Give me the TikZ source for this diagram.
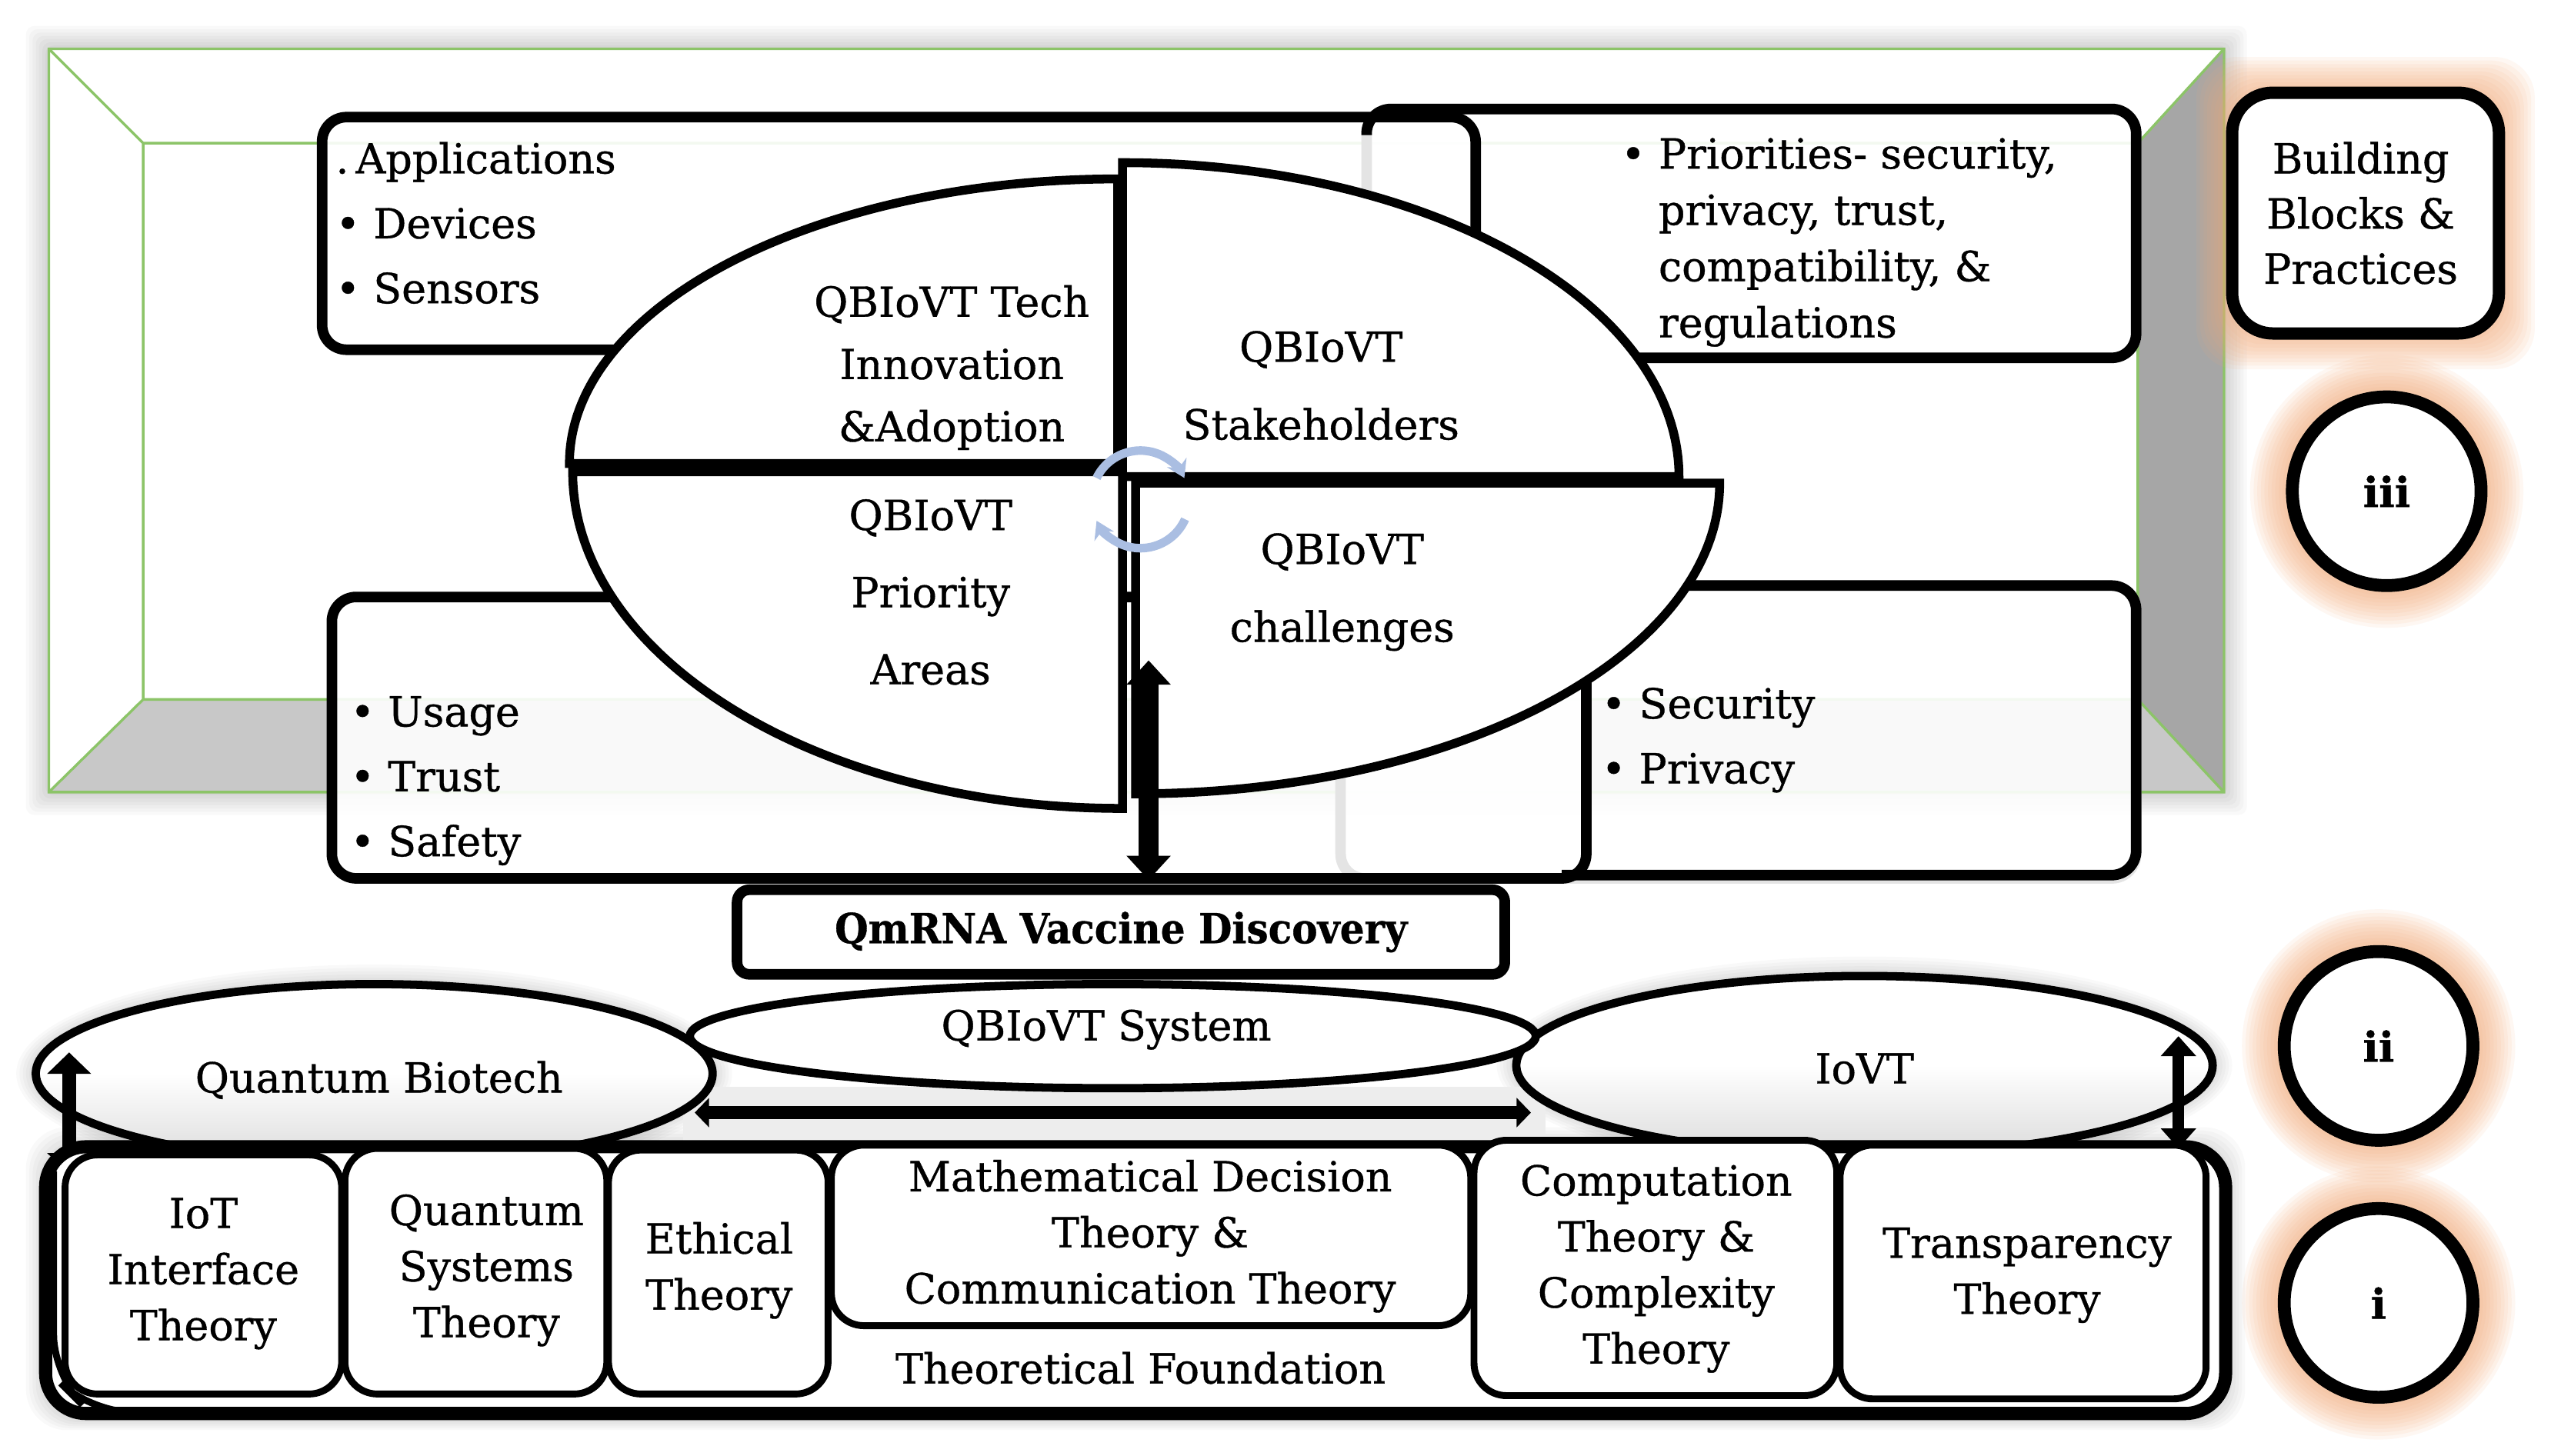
\documentclass[tikz,border=0pt]{standalone}
\usepackage{fontspec}
\setmainfont{DejaVu Serif}[RawFeature={embolden=0.7}]
\usetikzlibrary{arrows.meta,calc}
\definecolor{fgreen}{RGB}{140,196,104}
\definecolor{bevlight}{RGB}{200,200,200}
\definecolor{bevdark}{RGB}{166,166,166}
\definecolor{cyccol}{RGB}{170,190,226}
\definecolor{glowcol}{RGB}{244,170,120}
\definecolor{ghost}{RGB}{228,228,228}
\tikzset{
  boxln/.style={line width=3.7pt, line join=round},
  ellln/.style={line width=3.1pt, line join=miter},
  thinbox/.style={line width=2.4pt, rounded corners=0.4cm, fill=white},
  txt/.style={inner sep=0pt, align=center, font=\fontsize{14.5pt}{19.6pt}\selectfont},
  quadfill/.style={fill=white, draw=black, ellln},
  ellshade/.style={top color=white, bottom color=black!14, middle color=white, draw=black, line width=2.9pt},
  bigdarrow/.style={line width=6.8pt, {Triangle[width=15pt,length=8.5pt]}-{Triangle[width=15pt,length=8.5pt]}},
  hdarrow/.style={line width=4.4pt, {Triangle[width=10pt,length=5pt]}-{Triangle[width=10pt,length=5pt]}},
  ldarrow/.style={line width=5pt, {Triangle[width=15pt,length=7.5pt]}-{Triangle[width=15pt,length=7.5pt]}},
  rdarrow/.style={line width=4pt, {Triangle[width=12pt,length=7pt]}-{Triangle[width=12pt,length=7pt]}},
  cycarrow/.style={cyccol, line width=3pt, -{Stealth[length=6pt,width=7.5pt]}},
  ring/.style={line width=4.5pt, fill=white}
}
\begin{document}
\begin{tikzpicture}[x=0.02cm,y=-0.02cm]
\useasboundingbox (0,0) rectangle (1568,895);
\fill[white] (0,0) rectangle (1568,895);

% ---------- upper shadow ----------
\foreach \k in {1,...,7}{
  \fill[black,opacity=0.022,rounded corners=0.1cm] ({30-2*\k},{30-2*\k}) rectangle ({1367+2*\k},{487+2*\k});
}
% ---------- bevel frame ----------
\fill[white] (30,30) rectangle (1367,487);
\fill[bevlight] (30,487) -- (88,430) -- (1314,430) -- (1367,487) -- cycle;
\fill[bevdark] (1367,30) -- (1314,88) -- (1314,430) -- (1367,487) -- cycle;
\draw[fgreen,line width=0.9pt] (30,30) rectangle (1367,487) (88,88) rectangle (1314,430)
  (30,30) -- (88,88) (1367,30) -- (1314,88) (30,487) -- (88,430) (1367,487) -- (1314,430);

% ---------- boxes around the ellipse ----------
\fill[white,opacity=0.9,rounded corners=0.3cm] (198,72) rectangle (907,215);
\fill[white,opacity=0.9,rounded corners=0.3cm] (840,67) rectangle (1313,220);
\fill[white,opacity=0.9,rounded corners=0.3cm] (204,367) rectangle (975,540);
\fill[white,opacity=0.9,rounded corners=0.3cm] (824,360) rectangle (1313,540);
\draw[ghost,boxln,rounded corners=0.3cm] (840,67) rectangle (1313,220);
\draw[ghost,boxln,rounded corners=0.3cm] (824,360) rectangle (1313,540);
\draw[boxln,rounded corners=0.3cm] (198,72) rectangle (907,215);
\draw[boxln,rounded corners=0.3cm] (840,83) -- (840,67) -- (1313,67) -- (1313,220) -- (840,220) -- (840,205);
\draw[boxln,rounded corners=0.3cm] (204,367) rectangle (975,540);
\draw[boxln,rounded corners=0.3cm] (950,360) -- (1313,360) -- (1313,538) -- (960,538);

\node[txt,anchor=west,align=left,font=\fontsize{14.5pt}{22.7pt}\selectfont] (apps) at (206,137)
  {.\,Applications\\• Devices\\• Sensors};
\node[txt,anchor=west,align=left,font=\fontsize{14.5pt}{19.7pt}\selectfont] (prio) at (996,149)
  {• Priorities- security,\\\phantom{• }privacy, trust,\\\phantom{• }compatibility, \&\\\phantom{• }regulations};
\node[txt,anchor=west,align=left,font=\fontsize{14.5pt}{22.7pt}\selectfont] (usage) at (215,480)
  {• Usage\\• Trust\\• Safety};
\node[txt,anchor=west,align=left,font=\fontsize{14.5pt}{22.7pt}\selectfont] (secu) at (984,455)
  {• Security\\• Privacy};

% ---------- four quadrants ----------
\path[quadfill] (350,285) arc[start angle=180,end angle=270,x radius=337,y radius=175] -- (687,285) -- cycle;
\path[quadfill] (690,293) -- (690,100) arc[start angle=270,end angle=360,x radius=342,y radius=193] -- cycle;
\path[quadfill] (352,290) -- (690,290) -- (690,497) arc[start angle=90,end angle=180,x radius=338,y radius=207] -- cycle;
\path[quadfill] (698,297) -- (1057,297) arc[start angle=0,end angle=90,x radius=359,y radius=191] -- cycle;

\node[txt,font=\fontsize{14.5pt}{21.8pt}\selectfont] (qtl) at (585,226) {QBIoVT Tech\\Innovation\\\&Adoption};
\node[txt,font=\fontsize{14.5pt}{27.2pt}\selectfont] (qtr) at (812,237) {QBIoVT\\Stakeholders};
\node[txt,font=\fontsize{14.5pt}{27pt}\selectfont] (qbl) at (572,364) {QBIoVT\\Priority\\Areas};
\node[txt,font=\fontsize{14.5pt}{27.2pt}\selectfont] (qbr) at (825,364) {QBIoVT\\challenges};

% ---------- cycle arrows ----------
\coordinate (cyc) at (701,307);
\draw[cycarrow] (cyc) ++(206:30) arc[start angle=206,end angle=334,radius=30];
\draw[cycarrow] (cyc) ++(24:30) arc[start angle=24,end angle=154,radius=30];

% ---------- QmRNA box and vertical arrow ----------
\node[draw,boxln,fill=white,rounded corners=0.15cm,minimum width=9.44cm,minimum height=1.04cm,inner sep=0pt] (qm) at (689,573)
  {\fontsize{14.5pt}{17pt}\selectfont\scalebox{0.93}[1]{\bfseries QmRNA Vaccine Discovery}};
\coordinate (va) at (706,406);
\coordinate (vb) at (706,541);
\draw[bigdarrow] (va) -- (vb);

% ---------- lower shadows ----------
\foreach \k in {1,...,6}{
  \fill[black,opacity=0.025,rounded corners=0.5cm] ({28-2*\k},{705-2*\k}) rectangle ({1368+2*\k},{872+1.2*\k});
  \fill[black,opacity=0.025] (230,660) ellipse [x radius={208+2*\k}, y radius={55+2*\k}];
  \fill[black,opacity=0.025] (1146,655) ellipse [x radius={214+2*\k}, y radius={55+2*\k}];
}
\fill[black!7] (420,668) rectangle (950,706);

% ---------- lower ellipses ----------
\path[ellshade] (230,660) ellipse [x radius=208, y radius=55];
\path[ellshade] (1146,655) ellipse [x radius=214, y radius=55];
\filldraw[fill=white,draw=black,line width=2.9pt] (684,637) ellipse [x radius=260, y radius=32];
\node[txt] (qbio) at (233,664) {Quantum Biotech};
\node[txt] (iovt) at (1146,657) {IoVT};
\node[txt] (qsys) at (680,633) {QBIoVT System};

\coordinate (ha) at (427,684);
\coordinate (hb) at (941,684);
\draw[hdarrow] (ha) -- (hb);

\coordinate (la) at (42.5,722);
\coordinate (lb) at (42.5,647);
\draw[ldarrow] (la) -- (lb);

% ---------- foundation band ----------
\draw[line width=4.6pt,rounded corners=0.5cm,fill=white] (28,705) rectangle (1368,869);
\draw[line width=2.4pt,rounded corners=0.5cm] (33,720) -- (33,846) -- (55,868) -- (1340,868);
\draw[thinbox] (40,710) rectangle (210,857);
\draw[thinbox] (212,706) rectangle (373,857);
\draw[thinbox] (374,707) rectangle (509,857);
\draw[thinbox] (511,704) rectangle (904,815);
\draw[thinbox] (906,701) rectangle (1129,858);
\draw[thinbox] (1131,704) rectangle (1356,860);

\node[txt] (t1) at (125,783) {IoT\\Interface\\Theory};
\node[txt] (t2) at (299,781) {Quantum\\Systems\\Theory};
\node[txt] (t3) at (442,781) {Ethical\\Theory};
\node[txt] (t4) at (707,760) {Mathematical Decision\\Theory \&\\Communication Theory};
\node[txt] (t5) at (1018,780) {Computation\\Theory \&\\Complexity\\Theory};
\node[txt] (t6) at (1246,784) {Transparency\\Theory};
\node[txt] (tf) at (701,841) {Theoretical Foundation};

\coordinate (ra) at (1339,706);
\coordinate (rb) at (1339,637);
\draw[rdarrow] (ra) -- (rb);

% ---------- right column with glow ----------
\foreach \k in {1,...,10}{
  \fill[glowcol,opacity=0.09,rounded corners=0.5cm] ({1372-2.2*\k},{57-2.2*\k}) rectangle ({1536+2.2*\k},{205+2.2*\k});
  \fill[glowcol,opacity=0.09] (1467,302) circle[radius={62+2.2*\k}];
  \fill[glowcol,opacity=0.09] (1462,643) circle[radius={62+2.2*\k}];
  \fill[glowcol,opacity=0.09] (1462,801) circle[radius={62+2.2*\k}];
}
\draw[line width=4.3pt,rounded corners=0.5cm,fill=white] (1372,57) rectangle (1536,205);
\node[txt,font=\fontsize{14.5pt}{19.3pt}\selectfont] (bb) at (1451,131) {Building\\Blocks \&\\Practices};
\draw[ring] (1467,302) circle[radius=58];
\draw[ring] (1462,643) circle[radius=58];
\draw[ring] (1462,801) circle[radius=58];
\node[txt,font=\fontsize{14.5pt}{17pt}\selectfont\bfseries] (c3) at (1467,302) {iii};
\node[txt,font=\fontsize{14.5pt}{17pt}\selectfont\bfseries] (c2) at (1462,643) {ii};
\node[txt,font=\fontsize{14.5pt}{17pt}\selectfont\bfseries] (c1) at (1462,801) {i};
\end{tikzpicture}
\end{document}
